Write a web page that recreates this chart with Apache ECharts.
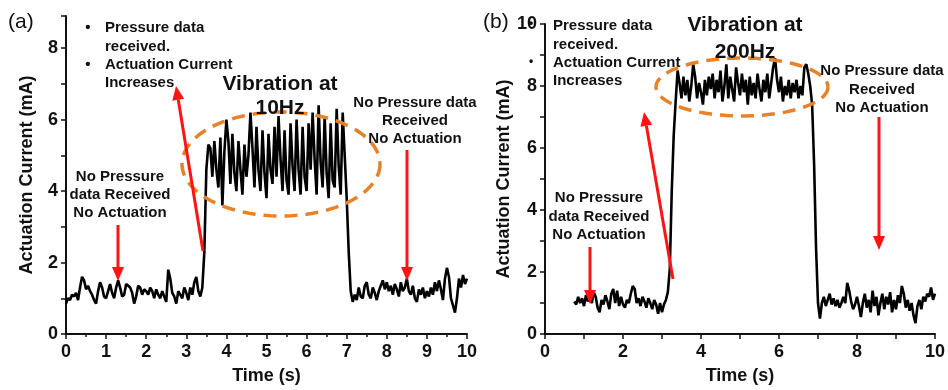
<!DOCTYPE html>
<html>
<head>
<meta charset="utf-8">
<script src="https://cdn.jsdelivr.net/npm/echarts@6/dist/echarts.min.js"></script>
<style>
html, body { margin: 0; padding: 0; background: #fff; }
#main { width: 948px; height: 390px; }
</style>
</head>
<body>
<div id="main"></div>
<script>
// sampling of the traces (s)
var stepA = 0.05, startA = 0;
var stepB = 0.05, startB = 0.75;

// panel (a): vibration at 10 Hz, current in mA
var currentA = [
    0.85, 1.00, 0.95, 1.10, 1.05, 1.15, 0.95, 1.30, 1.60, 1.50,
    1.25, 1.35, 1.20, 1.10, 0.95, 0.85, 1.20, 1.45, 1.30, 1.05,
    1.00, 1.20, 1.40, 1.15, 1.00, 1.30, 1.50, 1.30, 1.05, 1.10,
    1.40, 1.35, 1.30, 1.15, 0.85, 1.05, 1.35, 1.30, 1.10, 1.25,
    1.20, 1.10, 1.30, 1.20, 1.00, 1.25, 1.10, 1.00, 1.20, 1.05,
    0.90, 1.80, 1.55, 1.15, 1.05, 0.85, 1.20, 1.10, 1.00, 1.30,
    1.15, 0.95, 1.30, 1.10, 1.45, 1.60, 1.20, 1.05, 1.30,
    2.30, 4.60, 5.30, 5.20, 4.40, 5.40, 4.60, 4.10, 5.50, 3.60,
    5.10, 6.00, 5.40, 4.20, 5.60, 4.50, 4.00, 5.40, 4.60, 3.90,
    5.30, 4.40, 5.00, 6.20, 5.20, 4.10, 5.80, 4.60, 4.00, 5.70,
    4.50, 3.80, 5.60, 4.60, 4.20, 5.80, 4.40, 6.10, 4.90, 4.00,
    5.70, 4.30, 3.90, 5.90, 4.70, 4.00, 6.00, 4.60, 3.90, 5.80,
    4.40, 4.00, 5.90, 4.60, 6.20, 4.90, 3.90, 6.40, 4.80, 4.10,
    6.10, 4.50, 3.80, 5.90, 4.30, 4.10, 6.30, 4.70, 3.90, 6.20,
    5.00, 3.80,
    2.30, 1.20, 0.90, 1.10, 0.95, 1.30, 1.05, 1.00, 1.35, 1.45,
    1.10, 1.00, 1.30, 1.15, 0.95, 1.20, 1.35, 1.50, 1.25, 1.45,
    1.20, 1.35, 1.10, 1.40, 1.25, 1.05, 1.45, 1.20, 1.30, 1.55,
    1.20, 1.10, 1.35, 1.00, 0.90, 1.25, 1.10, 1.30, 1.00, 1.20,
    1.05, 1.30, 1.10, 1.45, 1.20, 1.50, 1.25, 0.95, 1.55, 1.85,
    1.60, 1.00, 0.80, 0.60, 1.00, 1.55, 1.30, 1.65, 1.40, 1.55
];

// panel (b): vibration at 200 Hz, current in mA
var currentB = [
    1.05, 0.95, 1.20, 1.00, 1.15, 0.90, 1.25, 1.05, 1.20, 1.00,
    1.35, 1.20, 0.85, 0.70, 1.10, 0.95, 1.25, 1.05, 0.80, 1.30,
    1.45, 1.00, 1.40, 0.90, 1.20, 0.95, 0.85, 1.10, 1.00, 1.30,
    1.55, 1.45, 1.00, 1.15, 0.90, 1.20, 1.05, 0.85, 1.15, 1.00,
    0.80, 1.10, 0.95, 0.65, 1.00, 0.70, 0.95, 1.10, 1.35,
    2.10, 4.60, 6.40, 7.50, 8.50,
    8.10, 7.60, 8.30, 7.70, 8.20, 7.50, 8.00, 8.70, 8.30, 7.60,
    8.10, 7.80, 7.40, 8.20, 7.70, 8.30, 7.90, 8.40, 7.60, 8.20,
    7.80, 8.50, 7.50, 8.00, 8.70, 7.60, 8.30, 7.90, 7.50, 8.60,
    8.10, 7.70, 8.40, 7.80, 8.20, 7.40, 8.30, 7.70, 8.10, 7.60,
    8.40, 7.90, 7.50, 8.20, 7.80, 8.40, 7.60, 8.10, 8.60, 8.90,
    8.20, 7.80, 8.30, 7.50, 8.00, 7.70, 8.20, 7.60, 8.10, 7.80,
    8.20, 7.60, 8.00, 7.70, 8.60, 8.70, 8.40, 8.00, 7.40,
    5.50, 2.80, 1.00, 0.50, 1.00,
    1.20, 0.90, 1.10, 1.30, 0.95, 1.15, 0.90, 1.10, 0.85, 1.00,
    1.20, 1.00, 1.65, 1.40, 1.05, 0.80, 0.95, 1.20, 0.90, 0.55,
    1.00, 1.30, 0.85, 1.10, 0.70, 1.40, 0.90, 1.20, 0.60, 1.00,
    1.30, 0.80, 1.20, 0.95, 1.35, 0.70, 1.10, 0.80, 1.25, 1.00,
    1.55, 1.30, 0.85, 1.10, 0.75, 1.00, 0.60, 0.35, 0.90, 1.10,
    0.80, 1.20, 1.05, 1.30, 1.20, 1.50, 1.10, 1.30
];

function toPairs(values, start, step) {
    return values.map(function (v, i) {
        return [+(start + i * step).toFixed(3), v];
    });
}

var FONT = 'Liberation Sans';
var RED = '#ff1414';
var ORANGE = '#e8822a';

function txt(x, y, s, size, align, weight) {
    return {
        type: 'text', x: x, y: y, z: 20,
        style: {
            text: s, fill: '#111', font: (weight || 'bold') + ' ' + size + 'px "' + FONT + '"',
            textAlign: align || 'center', textVerticalAlign: 'middle'
        }
    };
}

function arrow(x1, y1, x2, y2) {
    var dx = x2 - x1, dy = y2 - y1, len = Math.sqrt(dx * dx + dy * dy);
    var ux = dx / len, uy = dy / len, hl = 14, hw = 6;
    var bx = x2 - ux * hl, by = y2 - uy * hl;
    return [
        { type: 'line', z: 15, shape: { x1: x1, y1: y1, x2: bx, y2: by }, style: { stroke: RED, lineWidth: 3 } },
        { type: 'polygon', z: 15, shape: { points: [[x2, y2], [bx - uy * hw, by + ux * hw], [bx + uy * hw, by - ux * hw]] }, style: { fill: RED } }
    ];
}

function ellipse(cx, cy, rx, ry) {
    var pts = [];
    for (var i = 0; i <= 120; i++) {
        var a = i / 120 * Math.PI * 2;
        pts.push([cx + rx * Math.cos(a), cy + ry * Math.sin(a)]);
    }
    return { type: 'polyline', z: 12, shape: { points: pts }, style: { stroke: ORANGE, lineWidth: 3.5, lineDash: [13, 8], fill: null } };
}

function xAxisOf(idx, labelEvery) {
    return {
        type: 'value', gridIndex: idx, min: 0, max: 10, interval: 1,
        name: 'Time (s)', nameLocation: 'middle', nameGap: 33,
        nameTextStyle: { color: '#111', fontFamily: FONT, fontWeight: 'bold', fontSize: 18 },
        axisLine: { lineStyle: { color: '#111', width: 2 } },
        axisTick: { length: 5, lineStyle: { color: '#111', width: 1.5 } },
        minorTick: { show: labelEvery === 1, splitNumber: 2, length: 3, lineStyle: { color: '#111', width: 1.5 } },
        axisLabel: {
            color: '#111', fontFamily: FONT, fontWeight: 'bold', fontSize: 18, margin: 9,
            formatter: function (v) { return v % labelEvery === 0 ? v : ''; }
        },
        splitLine: { show: false }
    };
}

function yAxisOf(idx, max) {
    return {
        type: 'value', gridIndex: idx, min: 0, max: max, interval: 1,
        name: 'Actuation Current (mA)', nameLocation: 'middle', nameGap: 30,
        nameTextStyle: { color: '#111', fontFamily: FONT, fontWeight: 'bold', fontSize: 18 },
        axisLine: { show: true, lineStyle: { color: '#111', width: 2 } },
        axisTick: { show: true, length: 5, lineStyle: { color: '#111', width: 1.5 } },
        axisLabel: {
            color: '#111', fontFamily: FONT, fontWeight: 'bold', fontSize: 18, margin: 8,
            formatter: function (v) { return v % 2 === 0 ? v : ''; }
        },
        splitLine: { show: false }
    };
}

var chart = echarts.init(document.getElementById('main'));

var graphics = [
    txt(8, 22, '(a)', 21, 'left', 'normal'),
    txt(483, 22, '(b)', 21, 'left', 'normal'),
    // panel (a) notes
    txt(88, 28, '•', 15, 'center'),
    txt(105, 28, 'Pressure data', 15, 'left'),
    txt(105, 47, 'received.', 15, 'left'),
    txt(88, 65, '•', 15, 'center'),
    txt(105, 65, 'Actuation Current', 15, 'left'),
    txt(105, 83, 'Increases', 15, 'left'),
    txt(280, 84, 'Vibration at', 21),
    txt(280, 108, '10Hz', 21),
    txt(415, 103, 'No Pressure data', 15),
    txt(415, 121, 'Received', 15),
    txt(415, 139, 'No Actuation', 15),
    txt(120, 177, 'No Pressure', 15),
    txt(120, 195, 'data Received', 15),
    txt(120, 213, 'No Actuation', 15),
    // panel (b) notes
    txt(531, 24, '•', 12, 'center'),
    txt(553, 26, 'Pressure data', 15, 'left'),
    txt(553, 45, 'received.', 15, 'left'),
    txt(531, 62, '•', 12, 'center'),
    txt(553, 63, 'Actuation Current', 15, 'left'),
    txt(553, 81, 'Increases', 15, 'left'),
    txt(745, 25, 'Vibration at', 21),
    txt(745, 52, '200Hz', 21),
    txt(882, 71, 'No Pressure data', 15),
    txt(882, 90, 'Received', 15),
    txt(882, 108, 'No Actuation', 15),
    txt(599, 198, 'No Pressure', 15),
    txt(599, 217, 'data Received', 15),
    txt(599, 235, 'No Actuation', 15),
    ellipse(281, 164, 99, 52),
    ellipse(742, 87, 86, 29)
]
    .concat(arrow(203, 251, 176, 86))
    .concat(arrow(118, 225, 118, 281))
    .concat(arrow(407, 150, 407, 281))
    .concat(arrow(673, 279, 644, 112))
    .concat(arrow(590, 247, 590, 304))
    .concat(arrow(879, 117, 879, 250));

chart.setOption({
    animation: false,
    backgroundColor: '#fff',
    grid: [
        { left: 66, right: 481, top: 16, bottom: 53 },
        { left: 545, right: 13, top: 24, bottom: 53 }
    ],
    xAxis: [xAxisOf(0, 1), xAxisOf(1, 2)],
    yAxis: [yAxisOf(0, 8.9), yAxisOf(1, 10)],
    series: [
        {
            name: '10Hz', type: 'line', xAxisIndex: 0, yAxisIndex: 0,
            data: toPairs(currentA, startA, stepA), showSymbol: false, symbol: 'none',
            lineStyle: { color: '#000', width: 2.6 }
        },
        {
            name: '200Hz', type: 'line', xAxisIndex: 1, yAxisIndex: 1,
            data: toPairs(currentB, startB, stepB), showSymbol: false, symbol: 'none',
            lineStyle: { color: '#000', width: 2.6 }
        }
    ],
    graphic: graphics
});
</script>
</body>
</html>
